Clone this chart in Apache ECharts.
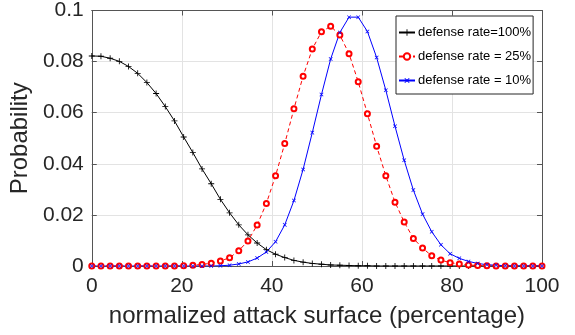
<!DOCTYPE html>
<html>
<head>
<meta charset="utf-8">
<script src="https://cdn.jsdelivr.net/npm/echarts@6/dist/echarts.min.js"></script>
<style>
html,body{margin:0;padding:0;background:#fff;}
#chart{width:575px;height:335px;}
</style>
</head>
<body>
<div id="chart"></div>
<script>
const xValues = [0, 2.04, 4.08, 6.12, 8.16, 10.2, 12.24, 14.29, 16.33, 18.37,
  20.41, 22.45, 24.49, 26.53, 28.57, 30.61, 32.65, 34.69, 36.73, 38.78,
  40.82, 42.86, 44.9, 46.94, 48.98, 51.02, 53.06, 55.1, 57.14, 59.18,
  61.22, 63.27, 65.31, 67.35, 69.39, 71.43, 73.47, 75.51, 77.55, 79.59,
  81.63, 83.67, 85.71, 87.76, 89.8, 91.84, 93.88, 95.92, 97.96, 100];

const rate100 = [0.0822, 0.0821, 0.0813, 0.0801, 0.0781, 0.0754, 0.0718, 0.0675, 0.0624, 0.0568,
  0.0505, 0.0444, 0.0380, 0.0322, 0.0261, 0.0208, 0.0161, 0.0122, 0.0090, 0.0064,
  0.0046, 0.0033, 0.0022, 0.0015, 0.0010, 0.0007, 0.0004, 0.0003, 0.0002, 0.0001,
  0.0001, 0, 0, 0, 0, 0, 0, 0, 0, 0,
  0, 0, 0, 0, 0, 0, 0, 0, 0, 0];

const rate25 = [0, 0, 0, 0, 0, 0, 0, 0, 0, 0,
  0.0001, 0.0003, 0.0006, 0.0011, 0.0020, 0.0032, 0.0060, 0.0098, 0.0160, 0.0245,
  0.0353, 0.0479, 0.0615, 0.0743, 0.0849, 0.0917, 0.0938, 0.0904, 0.0831, 0.0721,
  0.0596, 0.0469, 0.0353, 0.0250, 0.0172, 0.0108, 0.0070, 0.0040, 0.0023, 0.0013,
  0.0008, 0.0004, 0.0002, 0.0001, 0, 0, 0, 0, 0, 0];

const rate10 = [0, 0, 0, 0, 0, 0, 0, 0, 0, 0,
  0, 0, 0, 0, 0.0001, 0.0003, 0.0008, 0.0016, 0.0031, 0.0055,
  0.0095, 0.0161, 0.0256, 0.0378, 0.0522, 0.0671, 0.0810, 0.0914, 0.0974, 0.0974,
  0.0918, 0.0816, 0.0688, 0.0547, 0.0414, 0.0297, 0.0203, 0.0134, 0.0083, 0.0048,
  0.0030, 0.0018, 0.0010, 0.0005, 0.0003, 0.0001, 0, 0, 0, 0];

const seriesNames = ['defense rate=100%', 'defense rate = 25%', 'defense rate = 10%'];
const xTicks = [0, 20, 40, 60, 80, 100];
const yTicks = [0, 0.02, 0.04, 0.06, 0.08, 0.1];

const pair = arr => arr.map((v, i) => [xValues[i], v]);
const PLUS = 'path://M4.3,0H5.7V4.3H10V5.7H5.7V10H4.3V5.7H0V4.3H4.3Z';
const txt = '#262626';
const axisCol = '#555555';
const font = 'Liberation Sans, Arial, Helvetica, sans-serif';

const chart = echarts.init(document.getElementById('chart'), null, {renderer: 'canvas'});

function xAx(pos, show) {
  return {
    type: 'value', position: pos, min: xTicks[0], max: xTicks[xTicks.length - 1],
    interval: xTicks[1] - xTicks[0],
    axisLine: {show: true, onZero: false, lineStyle: {color: axisCol, width: 1}},
    axisTick: {show: true, inside: true, length: 5, lineStyle: {color: axisCol}},
    axisLabel: {show: show, color: txt, fontSize: 21, fontFamily: font, margin: 10},
    splitLine: {show: show, lineStyle: {color: '#e3e3e3', width: 1}},
    name: show ? 'normalized attack surface (percentage)' : '',
    nameLocation: 'middle', nameGap: 38,
    nameTextStyle: {color: txt, fontSize: 24, fontFamily: font}
  };
}
function yAx(pos, show) {
  return {
    type: 'value', position: pos, min: yTicks[0], max: yTicks[yTicks.length - 1],
    interval: 0.02,
    axisLine: {show: true, onZero: false, lineStyle: {color: axisCol, width: 1}},
    axisTick: {show: true, inside: true, length: 5, lineStyle: {color: axisCol}},
    axisLabel: {show: show, color: txt, fontSize: 21, fontFamily: font, margin: 8,
      formatter: v => String(Math.round(v * 100) / 100)},
    splitLine: {show: show, lineStyle: {color: '#e3e3e3', width: 1}},
    name: show ? 'Probability' : '',
    nameLocation: 'middle', nameGap: 50,
    nameTextStyle: {color: txt, fontSize: 24, fontFamily: font}
  };
}

chart.setOption({
  animation: false,
  backgroundColor: '#ffffff',
  grid: {left: 88, right: 33, top: 10, bottom: 69, containLabel: false},
  xAxis: [xAx('bottom', true), xAx('top', false)],
  yAxis: [yAx('left', true), yAx('right', false)],
  legend: {
    orient: 'vertical', left: 396, top: 16,
    data: seriesNames,
    backgroundColor: '#ffffff', borderColor: '#262626', borderWidth: 1,
    padding: [10, 2, 7, 2], itemGap: 11, itemWidth: 16, itemHeight: 8,
    textStyle: {color: '#000', fontSize: 13, fontFamily: font, padding: [0, 0, 0, -2]}
  },
  series: [
    {
      name: seriesNames[0], type: 'line', data: pair(rate100),
      symbol: PLUS, symbolSize: 6,
      lineStyle: {color: '#000000', width: 1},
      itemStyle: {color: '#000000'}
    },
    {
      name: seriesNames[1], type: 'line', data: pair(rate25),
      symbol: 'emptyCircle', symbolSize: 5,
      lineStyle: {color: '#ff0000', width: 1, type: [4, 3]},
      itemStyle: {color: '#ff0000', borderColor: '#ff0000', borderWidth: 0.9}
    },
    {
      name: seriesNames[2], type: 'line', data: pair(rate10),
      symbol: PLUS, symbolSize: 5, symbolRotate: 45,
      lineStyle: {color: '#0000ff', width: 1},
      itemStyle: {color: '#0000ff'}
    }
  ]
});
</script>
</body>
</html>
